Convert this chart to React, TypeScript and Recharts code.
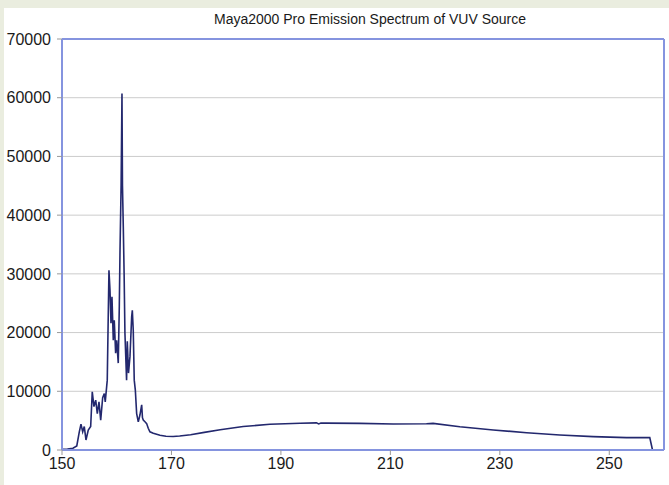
import { LineChart, Line, XAxis, YAxis, CartesianGrid, ReferenceLine } from "recharts"

// wavelength (nm) and counts
const wavelength = [
  150, 151, 152, 152.7, 153.16, 153.47, 153.78, 154.07, 154.38, 154.8, 155.24, 155.53, 155.84,
  156.16, 156.45, 156.76, 157.07, 157.43, 157.73, 157.9, 158.16, 158.27, 158.58, 158.77, 158.95,
  159.13, 159.37, 159.55, 159.8, 159.99, 160.28, 160.47, 160.6, 160.8, 160.96, 161.05, 161.2,
  161.35, 161.5, 161.8, 161.93, 162.15, 162.42, 162.73, 162.85, 163.02, 163.2, 163.4, 163.64,
  163.94, 164.25, 164.56, 164.7, 164.85, 165.16, 165.47, 165.76, 166.07, 166.68, 167.9, 169,
  170.3, 171.5, 173.5, 176, 178.9, 183.1, 188, 193.5, 196.5, 196.9, 197.3, 198.3, 204.4,
  210.5, 216.6, 217.8, 222.7, 228.8, 234.9, 240.96, 247.04, 253.14, 257.4, 257.9,
]
const intensity = [
  100, 150, 300, 700, 3100, 4400, 3100, 4000, 1700, 3400, 4000, 9900, 7400,
  8500, 6200, 8200, 5100, 8900, 9600, 8200, 10800, 11900, 30600, 27200, 21600,
  26100, 18700, 22100, 16500, 18700, 14800, 24400, 34000, 45000, 60700, 45000, 38000,
  30000, 19900, 11900, 18500, 13100, 15900, 22700, 23800, 20400, 11900, 10200, 6200,
  4800, 6000, 7700, 5500, 5100, 4800, 4500, 3700, 3100, 2850, 2500, 2330,
  2290, 2380, 2600, 3000, 3450, 4000, 4380, 4550, 4620, 4450, 4600, 4580, 4540,
  4430, 4480, 4540, 3970, 3410, 2950, 2550, 2270, 2100, 2100, 0,
]
const xTicks = [150, 170, 190, 210, 230, 250]
const yTicks = [0, 10000, 20000, 30000, 40000, 50000, 60000, 70000]

const data = wavelength.map((w, i) => ({ w, v: intensity[i] }))

const tickStyle = { fill: "#1a1a1a", fontSize: 16, fontFamily: "Liberation Sans, Arial, sans-serif" }
const frame = "#8594df"

export default function App() {
  return (
    <div style={{ position: "absolute", left: 0, top: 0, width: 669, height: 485, background: "#eaeddf" }}>
      <div style={{ position: "absolute", left: 4, top: 8, width: 665, height: 477, background: "#fff" }} />
      <div
        style={{
          position: "absolute",
          left: 69,
          width: 602,
          top: 11,
          textAlign: "center",
          fontFamily: "Liberation Sans, Arial, sans-serif",
          fontSize: 14,
          color: "#1a1a1a",
        }}
      >
        Maya2000 Pro Emission Spectrum of VUV Source
      </div>
      <LineChart
        width={669}
        height={485}
        data={data}
        margin={{ top: 39, right: 5, bottom: 0, left: 0 }}
        style={{ position: "absolute", left: 0, top: 0 }}
      >
        <CartesianGrid vertical={false} stroke="#cccccc" />
        <XAxis
          type="number"
          dataKey="w"
          domain={[150, 260]}
          ticks={xTicks}
          allowDataOverflow
          height={35}
          tickSize={5}
          tickMargin={3}
          tick={tickStyle}
          axisLine={{ stroke: frame, strokeWidth: 2 }}
          tickLine={{ stroke: "#999" }}
        />
        <YAxis
          type="number"
          domain={[0, 70000]}
          ticks={yTicks}
          width={62}
          tickSize={5}
          tickMargin={6}
          tick={tickStyle}
          axisLine={{ stroke: frame, strokeWidth: 2 }}
          tickLine={{ stroke: "#999" }}
        />
        <ReferenceLine y={70000} stroke={frame} strokeWidth={2} />
        <ReferenceLine x={260} stroke={frame} strokeWidth={2} />
        <Line
          type="linear"
          dataKey="v"
          stroke="#23286e"
          strokeWidth={1.6}
          dot={false}
          isAnimationActive={false}
        />
      </LineChart>
    </div>
  )
}
